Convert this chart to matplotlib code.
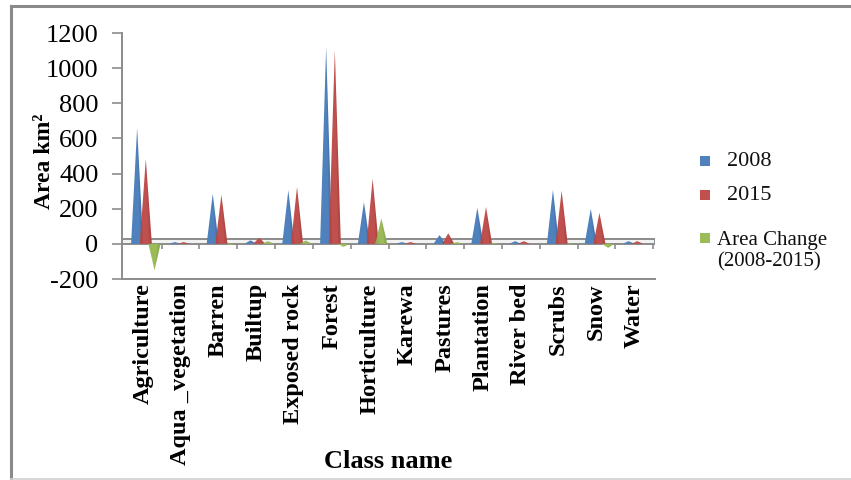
import matplotlib
matplotlib.use("Agg")
import matplotlib.pyplot as plt
from matplotlib.lines import Line2D
from matplotlib.patches import Rectangle

classes = ["Agriculture", "Aqua _vegetation", "Barren", "Builtup", "Exposed rock",
           "Forest", "Horticulture", "Karewa", "Pastures", "Plantation",
           "River bed", "Scrubs", "Snow", "Water"]
area_2008 = [660, 10, 285, 20, 305, 1120, 238, 10, 50, 205, 15, 307, 199, 15]
area_2015 = [483, 10, 279, 35, 324, 1103, 370, 10, 60, 210, 15, 302, 176, 15]
area_change = [-150, 0, -6, 15, 19, -17, 145, 0, 10, 5, 0, -5, -23, 0]

series = [
    ("2008", area_2008, "#4F81BD"),
    ("2015", area_2015, "#C0504D"),
    ("Area Change\n(2008-2015)", area_change, "#9BBB59"),
]
offsets = [-0.15, 0.08, 0.31]
half_w = 0.16

plt.rcParams["font.family"] = ["Liberation Serif", "DejaVu Serif"]
plt.rcParams["axes.unicode_minus"] = False

W, H = 851, 480
fig = plt.figure(figsize=(W / 100, H / 100), dpi=100)
ax = fig.add_axes([122 / W, (H - 279) / H, (655 - 122) / W, (279 - 33) / H])

# floor of the 3-D chart
ax.add_patch(Rectangle((-0.55, 0), 14.1, 30, facecolor="#f2f2f2",
                       edgecolor="#8c8c8c", linewidth=1.4, zorder=1))
ax.vlines([i + 0.5 for i in range(len(classes))], -32, 0,
          color="#8c8c8c", linewidth=1.2, zorder=1)

# pyramid columns
for (name, vals, color), off in zip(series, offsets):
    for i, v in enumerate(vals):
        x0 = i + off
        ax.fill([x0 - half_w, x0, x0 + half_w], [0, v, 0],
                color=color, linewidth=0, zorder=3)
        ax.fill([x0, x0 + half_w * 0.55, x0 + half_w], [v, 0, 0],
                color="black", alpha=0.08, linewidth=0, zorder=4)

ax.set_xlim(-0.55, 13.55)
ax.set_ylim(-200, 1200)
ax.set_yticks(range(-200, 1201, 200))
ax.set_xticks(range(len(classes)))
ax.set_xticklabels(classes, rotation=90, fontsize=17.5, fontweight="bold",
                   va="top", ha="center")
ax.tick_params(axis="x", length=0, pad=3)
ax.tick_params(axis="y", labelsize=19, length=7, width=1.2, color="#8c8c8c",
               pad=10, direction="out")

for side in ["top", "right"]:
    ax.spines[side].set_visible(False)
for side in ["left", "bottom"]:
    ax.spines[side].set_color("#8c8c8c")
    ax.spines[side].set_linewidth(1.4)

fig.text(45 / W, 1 - 161 / H, "Area km²", rotation=90, fontsize=17,
         fontweight="bold", ha="center", va="center")
fig.text(388 / W, 1 - 462 / H, "Class name", fontsize=19,
         fontweight="bold", ha="center", va="center")

# legend
legend_rows = [(161, 727, 16), (195, 727, 16), (251, 717, 15)]
for (name, vals, color), (ypx, xtxt, fs) in zip(series, legend_rows):
    mark_y = ypx if "\n" not in name else 238
    fig.patches.append(Rectangle((700 / W, 1 - (mark_y + 5) / H), 10 / W, 10 / H,
                                 transform=fig.transFigure, facecolor=color,
                                 edgecolor="none"))
    fig.text(xtxt / W, 1 - ypx / H, name, fontsize=fs, color="#111111",
             ha="left", va="center", linespacing=1.15)

# outer frame
fig.add_artist(Line2D([11 / W, 1], [1 - 6 / H, 1 - 6 / H], color="#8a8a8a",
                      linewidth=2.2, transform=fig.transFigure))
fig.add_artist(Line2D([11 / W, 11 / W], [0, 1 - 6 / H], color="#8a8a8a",
                      linewidth=2.2, transform=fig.transFigure))
fig.add_artist(Line2D([11 / W, 1], [1.5 / H, 1.5 / H], color="#d0d0d0",
                      linewidth=1.2, transform=fig.transFigure))

fig.savefig("out.png", dpi=100)
